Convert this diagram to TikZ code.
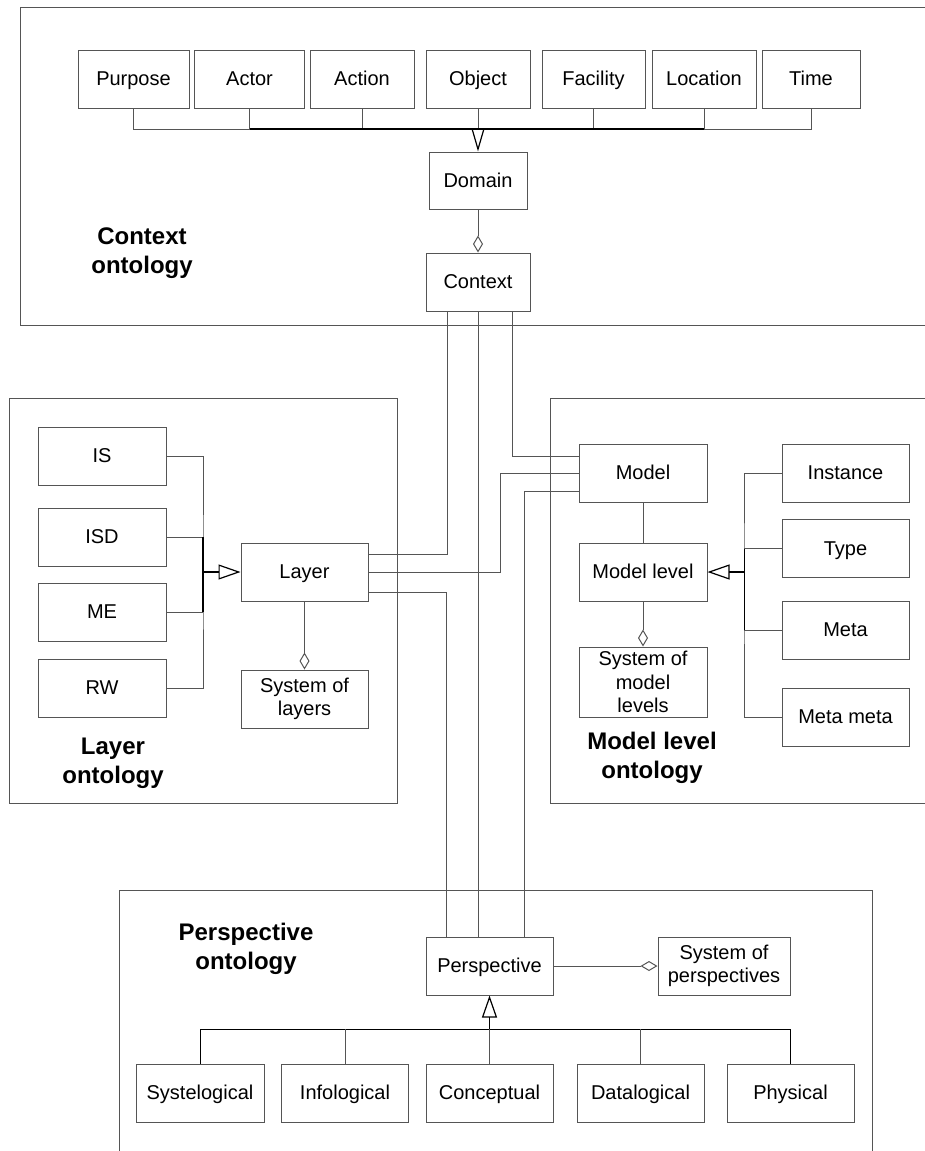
\documentclass[tikz,border=0pt]{standalone}
\usepackage{fontspec}
\setmainfont{Liberation Sans}
\usetikzlibrary{calc,arrows.meta}
\definecolor{rule}{HTML}{555555}

\tikzset{
  box/.style={draw=rule,line width=1pt,inner sep=0pt,align=center,
    minimum height=58pt,font=\fontsize{20}{23.5}\selectfont},
  cls/.style={box,text height=16pt,text depth=3pt},
  frame/.style={draw=rule,line width=1pt},
  tag/.style={align=center,font=\fontsize{24}{29}\selectfont\bfseries},
  link/.style={draw=rule,line width=1pt},
  spine/.style={draw=black,line width=1.8pt},
  isa/.style={-{Triangle[open,length=22pt,width=15pt,line width=1.2pt]}},
  partof/.style={{Diamond[open,length=17pt,width=10pt,line width=1pt]}-}
}

\begin{document}
\begin{tikzpicture}[x=1pt,y=-1pt]
\clip (0,0) rectangle (925,1151);

% ontology frames
\draw[frame] (20,7) rectangle (960,325);
\draw[frame] (9,398) rectangle (397,803);
\draw[frame] (550,398) rectangle (960,803);
\draw[frame] (119,890) rectangle (872,1200);

\node[tag] (ctxtag) at (142,253) {Context\\ontology};
\node[tag] (laytag) at (113,763) {Layer\\ontology};
\node[tag] (mltag) at (652,758) {Model level\\ontology};
\node[tag] (pertag) at (246,949) {Perspective\\ontology};

% context ontology
\node[cls,minimum width=111pt] (purpose) at (133.5,79) {Purpose};
\node[cls,minimum width=110pt] (actor) at (249.5,79) {Actor};
\node[cls,minimum width=104pt] (action) at (362,79) {Action};
\node[cls,minimum width=104pt] (object) at (478,79) {Object};
\node[cls,minimum width=103pt] (facility) at (593.5,79) {Facility};
\node[cls,minimum width=104pt] (location) at (704,79) {Location};
\node[cls,minimum width=98pt] (time) at (811,79) {Time};
\node[cls,minimum width=98pt,minimum height=57pt] (domain) at (478,180.5) {Domain};
\node[cls,minimum width=104pt] (context) at (478,282) {Context};

\coordinate (cbus) at (478,129);
\draw[link] (purpose.south) |- (cbus) -| (time.south);
\foreach \n in {actor,action,object,facility,location}
  \draw[link] (\n.south) -- (\n.south |- cbus);
\draw[spine] (actor.south |- cbus) -- (location.south |- cbus);
\draw[link,draw=black,-{Triangle[open,length=23pt,width=13pt,line width=1.2pt]}] (cbus) -- (domain.north);
\draw[link,partof] (context.north) -- (domain.south);

% layer ontology
\node[cls,minimum width=128pt] (is) at (102,456) {IS};
\node[cls,minimum width=128pt] (isd) at (102,537) {ISD};
\node[cls,minimum width=128pt] (me) at (102,612) {ME};
\node[cls,minimum width=128pt] (rw) at (102,688) {RW};
\node[cls,minimum width=127pt] (layer) at (304.5,572) {Layer};
\node[box,minimum width=127pt] (syslayers) at (304.5,699) {System of\\layers};

\coordinate (lbus) at (203,572);
\draw[link] (is.east) -| (lbus) |- (rw.east);
\draw[link] (isd.east) -- (isd.east -| lbus);
\draw[link] (me.east) -- (me.east -| lbus);
\draw[spine] (isd.east -| lbus) -- (me.east -| lbus);
\draw[spine,isa] (lbus) -- (layer.west);
\draw[link,partof] (syslayers.north) -- (layer.south);

% model level ontology
\node[cls,minimum width=128pt] (model) at (643,473) {Model};
\node[cls,minimum width=128pt] (modellevel) at (643,572) {Model level};
\node[box,minimum width=128pt,minimum height=70pt] (sysmodel) at (643,682)
  {System of\\model\\levels};
\node[cls,minimum width=127pt] (instance) at (845.5,473) {Instance};
\node[cls,minimum width=127pt] (type) at (845.5,548.5) {Type};
\node[cls,minimum width=127pt] (meta) at (845.5,630) {Meta};
\node[cls,minimum width=127pt] (metameta) at (845.5,717) {Meta meta};

\coordinate (mbus) at (744,572);
\draw[link] (instance.west) -| (mbus) |- (metameta.west);
\draw[link] (type.west) -- (type.west -| mbus);
\draw[link] (meta.west) -- (meta.west -| mbus);
\draw[link,draw=black] (type.west -| mbus) -- (meta.west -| mbus);
\draw[spine,isa] (mbus) -- (modellevel.east);
\draw[link] (model.south) -- (modellevel.north);
\draw[link,partof] (sysmodel.north) -- (modellevel.south);

% perspective ontology
\node[cls,minimum width=127pt] (perspective) at (489.5,966) {Perspective};
\node[box,minimum width=132pt] (sysper) at (724,966) {System of\\perspectives};
\node[cls,minimum width=128pt] (systelogical) at (200,1093) {Systelogical};
\node[cls,minimum width=127pt] (infological) at (345,1093) {Infological};
\node[cls,minimum width=127pt] (conceptual) at (489.5,1093) {Conceptual};
\node[cls,minimum width=127pt] (datalogical) at (640.5,1093) {Datalogical};
\node[cls,minimum width=127pt] (physical) at (790.5,1093) {Physical};

\coordinate (pbus) at (489.5,1029);
\draw[link,draw=black] (systelogical.north) |- (pbus) -| (physical.north);
\foreach \n in {infological,conceptual,datalogical}
  \draw[link] (\n.north) -- (\n.north |- pbus);
\draw[spine,isa] (pbus) -- (perspective.south);
\draw[link,partof] (sysper.west) -- (perspective.east);

% links between the ontologies
\draw[link] ($(context.south)+(-31,0)$) |- ($(layer.east)+(0,-18)$);
\draw[link] (context.south) -- (context.south |- perspective.north);
\draw[link] ($(context.south)+(34,0)$) |- ($(model.west)+(0,-17)$);
\draw[link] (layer.east) -| ($(model.west)+(-78,0)$) -- (model.west);
\draw[link] ($(layer.east)+(0,20)$) -| ($(perspective.north)+(-43.5,0)$);
\draw[link] ($(model.west)+(0,18)$) -| ($(perspective.north)+(34.5,0)$);
\end{tikzpicture}
\end{document}
